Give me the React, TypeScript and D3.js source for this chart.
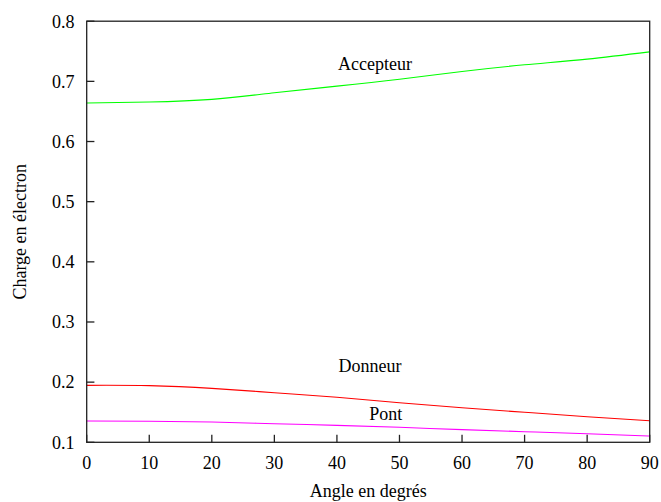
import React from "react";
import * as d3 from "d3";

const angles = [0, 10, 20, 30, 40, 50, 60, 70, 80, 90];
const accepteur = [0.664, 0.6656, 0.670, 0.681, 0.692, 0.7035, 0.7165, 0.7275, 0.737, 0.749];
const donneur = [0.1947, 0.1942, 0.1897, 0.1824, 0.1748, 0.1658, 0.1575, 0.1499, 0.1425, 0.1359];
const pont = [0.1354, 0.1349, 0.1337, 0.1309, 0.1282, 0.1249, 0.121, 0.1176, 0.1143, 0.1105];
const xTicks = [0, 10, 20, 30, 40, 50, 60, 70, 80, 90];
const yTicks = [0.1, 0.2, 0.3, 0.4, 0.5, 0.6, 0.7, 0.8];
const seriesNames = ["Accepteur", "Donneur", "Pont"];
const seriesColors = ["#00ff00", "#ff0000", "#ff00ff"];
const labelX = [46.1, 45.3, 47.8];
const labelY = [0.719, 0.2168, 0.137];

const W = 661;
const H = 502;
const FONT = "'Liberation Serif', 'Times New Roman', serif";

export default function App() {
  const x = d3.scaleLinear().domain([0, 90]).range([86.7, 649.7]);
  const y = d3.scaleLinear().domain([0.1, 0.8]).range([442.3, 21.2]);
  const allSeries = [accepteur, donneur, pont];
  const line = d3
    .line<number>()
    .x((_, i) => x(angles[i]))
    .y((d) => y(d))
    .curve(d3.curveNatural);

  const [x0, x1] = x.range();
  const [y0, y1] = y.range();

  return (
    <svg
      width={W}
      height={H}
      style={{ position: "absolute", left: 0, top: 0, background: "#fff" }}
      fontFamily={FONT}
      fontSize={18}
    >
      <rect x={0} y={0} width={W} height={H} fill="#fff" />
      {allSeries.map((s, i) => (
        <path key={i} d={line(s) || ""} fill="none" stroke={seriesColors[i]} strokeWidth={1.1} />
      ))}
      {/* frame */}
      <rect x={x0} y={y1} width={x1 - x0} height={y0 - y1} fill="none" stroke="#222" strokeWidth={1.3} />
      {/* y ticks */}
      {yTicks.map((t) => (
        <g key={"y" + t}>
          <line x1={x0} x2={x0 + 7.7} y1={y(t)} y2={y(t)} stroke="#222" strokeWidth={1.3} />
          <text x={74.5} y={y(t)} dy="0.35em" textAnchor="end" fill="#000">
            {t.toFixed(1)}
          </text>
        </g>
      ))}
      {/* x ticks */}
      {xTicks.map((t) => (
        <g key={"x" + t}>
          <line x1={x(t)} x2={x(t)} y1={y0} y2={y0 - 7.5} stroke="#222" strokeWidth={1.3} />
          <text x={x(t)} y={469} textAnchor="middle" fill="#000">
            {t}
          </text>
        </g>
      ))}
      {/* series labels */}
      {seriesNames.map((n, i) => (
        <text key={n} x={x(labelX[i])} y={y(labelY[i])} textAnchor="middle" fill="#000">
          {n}
        </text>
      ))}
      {/* axis titles */}
      <text x={(x0 + x1) / 2} y={497} textAnchor="middle" fill="#000">
        Angle en degrés
      </text>
      <text
        transform={`translate(26, ${(y0 + y1) / 2}) rotate(-90)`}
        textAnchor="middle"
        fill="#000"
      >
        Charge en électron
      </text>
    </svg>
  );
}
